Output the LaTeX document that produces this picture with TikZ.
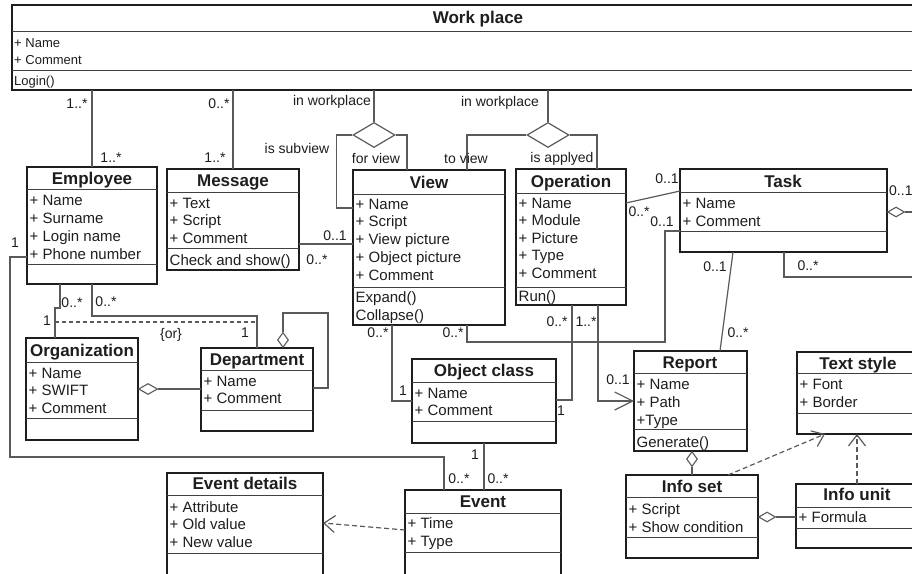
\documentclass[tikz,border=0pt]{standalone}
\usepackage{fontspec}
\setmainfont{Liberation Sans}
\usetikzlibrary{arrows.meta,shapes.geometric}
\definecolor{ink}{HTML}{1E1E1E}
\definecolor{wire}{HTML}{5A5A5A}
\newcommand\cbox[5]{\node[cls,minimum width={(#4)-(#2)},minimum height={(#5)-(#3)}] (#1) at (#2,#3) {};}
\newcommand\hsep[2]{\path (0,#2) coordinate (hstmp); \draw[sepl] (#1.west |- hstmp) -- (#1.east |- hstmp);}
\newcommand\attrs[5]{\foreach \t [count=\i] in {#5} {\node[attr] (#1-\i) at (#2,{#3+#4*(\i-1)}) {\t};}}
\begin{document}
\begin{tikzpicture}[x=1pt,y=-1pt,
  cls/.style={draw=ink,line width=1.6pt,anchor=north west,inner sep=0pt,outer sep=0pt,fill=white},
  sepl/.style={draw=ink!85,line width=0.9pt},
  ttl/.style={font=\bfseries\fontsize{17}{20}\selectfont,text=ink,anchor=base,inner sep=0pt},
  attr/.style={font=\fontsize{15}{18}\selectfont,text=ink,anchor=base west,inner sep=0pt},
  lab/.style={font=\fontsize{14}{16}\selectfont,text=ink,inner sep=0pt},
  conn/.style={draw=wire,line width=1.2pt},
  depl/.style={conn,dash pattern=on 5pt off 3pt,-{Straight Barb[length=11pt,width=17pt]}},
  agg/.style={diamond,draw=wire,line width=1.1pt,fill=white,inner sep=0pt,minimum width=17pt,minimum height=10pt},
  nary/.style={diamond,draw=wire,line width=1.2pt,fill=white,inner sep=0pt,minimum width=42pt,minimum height=25pt}]
\useasboundingbox (0,0) rectangle (912,573);
\clip (0,0) rectangle (912,573);
\fill[white] (0,0) rectangle (912,573);

% ---------- classes ----------
\cbox{wp}{12}{5}{945}{90}
\node[ttl] (wp-t) at (478,23) {Work place};
\hsep{wp}{31}\hsep{wp}{70}
\node[attr,font=\fontsize{13}{15}\selectfont] (wp-1) at (14,47) {+ Name};
\node[attr,font=\fontsize{13}{15}\selectfont] (wp-2) at (14,64) {+ Comment};
\node[attr,font=\fontsize{13}{15}\selectfont] (wp-m) at (14,85) {Login()};

\cbox{emp}{27}{167}{157}{284}
\node[ttl] (emp-t) at (92,184) {Employee};
\hsep{emp}{189}\hsep{emp}{264}
\attrs{emp}{29.5}{205}{18}{+ Name,+ Surname,+ Login name,+ Phone number}

\cbox{msg}{167}{169}{299}{270}
\node[ttl] (msg-t) at (233,186) {Message};
\hsep{msg}{192}\hsep{msg}{248}
\attrs{msg}{169.5}{208}{17.5}{+ Text,+ Script,+ Comment}
\node[attr] (msg-m) at (169.5,265) {Check and show()};

\cbox{view}{353}{170}{505}{325}
\node[ttl] (view-t) at (429,188) {View};
\hsep{view}{194}\hsep{view}{287}
\attrs{view}{355.5}{209}{17.8}{+ Name,+ Script,+ View picture,+ Object picture,+ Comment}
\node[attr] (view-m1) at (355.5,302) {Expand()};
\node[attr] (view-m2) at (355.5,320) {Collapse()};

\cbox{op}{516}{169}{626}{305}
\node[ttl] (op-t) at (571,187) {Operation};
\hsep{op}{193}\hsep{op}{287}
\attrs{op}{518.5}{208}{17.6}{+ Name,+ Module,+ Picture,+ Type,+ Comment}
\node[attr] (op-m) at (518.5,301) {Run()};

\cbox{task}{680}{169}{887}{252}
\node[ttl] (task-t) at (783,187) {Task};
\hsep{task}{192}\hsep{task}{231}
\attrs{task}{682.5}{208}{18}{+ Name,+ Comment}

\cbox{org}{26}{338}{138}{440}
\node[ttl] (org-t) at (82,356) {Organization};
\hsep{org}{362}\hsep{org}{418}
\attrs{org}{28.5}{378}{17.5}{+ Name,+ SWIFT,+ Comment}

\cbox{dep}{201}{348}{313}{431}
\node[ttl] (dep-t) at (257,365) {Department};
\hsep{dep}{370}\hsep{dep}{410}
\attrs{dep}{203.5}{386}{17}{+ Name,+ Comment}

\cbox{obj}{412}{359}{556}{443}
\node[ttl] (obj-t) at (484,376) {Object class};
\hsep{obj}{382}\hsep{obj}{421}
\attrs{obj}{414.5}{398}{17}{+ Name,+ Comment}

\cbox{rep}{634}{351}{747}{451}
\node[ttl] (rep-t) at (690,368) {Report};
\hsep{rep}{373}\hsep{rep}{429}
\attrs{rep}{636.5}{389}{18}{+ Name,+ Path,+Type}
\node[attr] (rep-m) at (636.5,447) {Generate()};

\cbox{ts}{797}{352}{919}{434}
\node[ttl] (ts-t) at (858,369) {Text style};
\hsep{ts}{373}\hsep{ts}{413}
\attrs{ts}{799.5}{389}{18}{+ Font,+ Border}

\cbox{iset}{626}{475}{758}{558}
\node[ttl] (iset-t) at (692,492) {Info set};
\hsep{iset}{497}\hsep{iset}{537}
\attrs{iset}{628.5}{514}{18}{+ Script,+ Show condition}

\cbox{iu}{796}{484}{919}{548}
\node[ttl] (iu-t) at (857,500) {Info unit};
\hsep{iu}{507}\hsep{iu}{528}
\attrs{iu}{798.5}{522}{18}{+ Formula}

\cbox{ev}{405}{490}{561}{590}
\node[ttl] (ev-t) at (483,507) {Event};
\hsep{ev}{513}\hsep{ev}{552}
\attrs{ev}{407.5}{528}{18}{+ Time,+ Type}

\cbox{ed}{167}{473}{323}{590}
\node[ttl] (ed-t) at (245,489) {Event details};
\hsep{ed}{495}\hsep{ed}{553}
\attrs{ed}{169.5}{512}{17.5}{+ Attribute,+ Old value,+ New value}

% ---------- diamonds ----------
\node[nary] (d1) at (374,135) {};
\node[nary] (d2) at (548,135) {};
\node[agg,anchor=west] (tdia) at ([yshift=-43pt]task.north east) {};
\node[agg,anchor=west,minimum width=19pt,minimum height=11pt] (odia) at ([yshift=-51pt]org.north east) {};
\node[agg,anchor=south,minimum width=11pt,minimum height=15pt] (ddia) at ([xshift=82pt]dep.north west) {};
\node[agg,anchor=north,minimum width=11pt,minimum height=15pt] (rdia) at ([xshift=58pt]rep.south west) {};
\node[agg,anchor=west] (idia) at ([yshift=-42pt]iset.north east) {};

% ---------- connectors ----------
\draw[conn] (emp.north) -- (emp.north |- wp.south);
\draw[conn] (msg.north) -- (msg.north |- wp.south);
\draw[conn] (d1.north) -- (d1.north |- wp.south);
\draw[conn] (d1.west) -- ++(-16,0) |- ([yshift=-38pt]view.north west);
\draw[conn] (d1.east) -| ([xshift=54pt]view.north west);
\draw[conn] (d2.north) -- (d2.north |- wp.south);
\draw[conn] (d2.west) -| ([xshift=114pt]view.north west);
\draw[conn] (d2.east) -| ([xshift=81pt]op.north west);
\draw[conn] ([yshift=-75pt]msg.north east) -- ([yshift=-74pt]view.north west);
\draw[conn] ([yshift=-34pt]op.north east) -- ([yshift=-22pt]task.north west);
\draw[conn] ([xshift=114pt]view.south west) -- ++(0,17) -| ([xshift=-15pt,yshift=-62pt]task.north west) -- ([yshift=-62pt]task.north west);
\draw[conn] ([xshift=39pt]view.south west) |- ([yshift=-42pt]obj.north west);
\draw[conn] ([xshift=56pt]op.south west) |- ([yshift=-41pt]obj.north east);
\draw[conn,-{Straight Barb[length=18pt,width=18pt]}] ([xshift=82pt]op.south west) |- ([yshift=-50pt]rep.north west);
\draw[conn] ([xshift=53pt]task.south west) -- ([xshift=86pt]rep.north west);
\draw[conn] ([xshift=104pt]task.south west) -- ++(0,25) -- ++(170,0) |- (tdia.east);
\draw[conn] ([xshift=33pt]emp.south west) -- ++(0,24) -- ++(-5,0) -- ([xshift=29pt]org.north west);
\draw[conn] ([xshift=65pt]emp.south west) -- ++(0,32) -| ([xshift=56pt]dep.north west);
\draw[conn,dash pattern=on 4pt off 3pt] ([xshift=29pt,yshift=16pt]org.north west) -- ([xshift=56pt,yshift=26pt]dep.north west);
\draw[conn] (odia.east) -- (odia.east -| dep.west);
\draw[conn] (ddia.north) -- ++(0,-19) -| ([xshift=15pt,yshift=-40pt]dep.north east) -- ([yshift=-40pt]dep.north east);
\draw[conn] ([yshift=-90pt]emp.north west) -- ++(-17,0) -- ++(0,200) -| ([xshift=39pt]ev.north west);
\draw[conn] ([xshift=72pt]obj.south west) -- ([xshift=79pt]ev.north west);
\draw[depl] ([yshift=-40pt]ev.north west) -- ([yshift=-50pt]ed.north east);
\draw[conn] (rdia.south) -- (rdia.south |- iset.north);
\draw[depl] ([xshift=102pt]iset.north west) -- ([xshift=28pt]ts.south west);
\draw[depl] ([xshift=61pt]iu.north west) -- ([xshift=60pt]ts.south west);
\draw[conn] (idia.east) -- (idia.east -| iu.west);

% ---------- labels ----------
\node[lab] (l1) at (77,104) {1..*};
\node[lab] (l2) at (111,158) {1..*};
\node[lab] (l3) at (219,104) {0..*};
\node[lab] (l4) at (215,158) {1..*};
\node[lab] (l5) at (332,102) {in workplace};
\node[lab] (l6) at (297,148) {is subview};
\node[lab] (l7) at (376,158) {for view};
\node[lab] (l8) at (500,103) {in workplace};
\node[lab] (l9) at (466,158) {to view};
\node[lab] (l10) at (562,159) {is applyed};
\node[lab] (l11) at (335,236) {0..1};
\node[lab] (l12) at (317,260) {0..*};
\node[lab] (l13) at (667,179) {0..1};
\node[lab] (l14) at (639,212) {0..*};
\node[lab] (l15) at (453,333) {0..*};
\node[lab] (l16) at (662,222) {0..1};
\node[lab] (l17) at (378,333) {0..*};
\node[lab] (l18) at (403,391) {1};
\node[lab] (l19) at (557,322) {0..*};
\node[lab] (l20) at (561,411) {1};
\node[lab] (l21) at (586,322) {1..*};
\node[lab] (l22) at (618,380) {0..1};
\node[lab] (l23) at (715,267) {0..1};
\node[lab] (l24) at (738,333) {0..*};
\node[lab] (l25) at (808,266) {0..*};
\node[lab,anchor=west] (l26) at (889,191) {0..1};
\node[lab] (l27) at (72,303) {0..*};
\node[lab] (l28) at (47,321) {1};
\node[lab] (l29) at (106,302) {0..*};
\node[lab] (l30) at (245,333) {1};
\node[lab] (l31) at (171,335) {\{or\}};
\node[lab] (l32) at (15,243) {1};
\node[lab] (l33) at (459,479) {0..*};
\node[lab] (l34) at (475,455) {1};
\node[lab] (l35) at (498,479) {0..*};
\end{tikzpicture}
\end{document}
